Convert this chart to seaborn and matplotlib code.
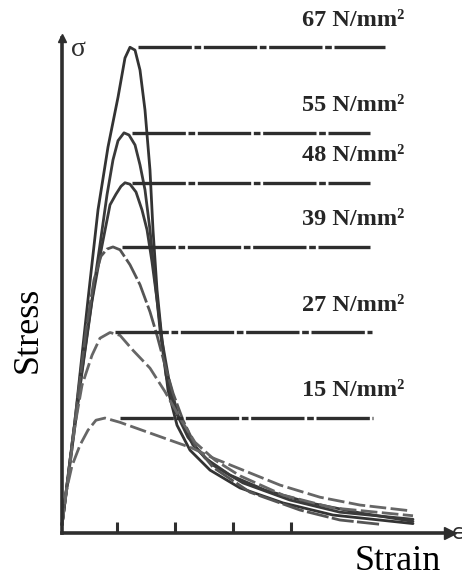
import matplotlib
matplotlib.use("Agg")
import matplotlib.pyplot as plt
import seaborn as sns
import pandas as pd

# ---------------- data ----------------
strengths = [67, 55, 48, 39, 27, 15]          # N/mm^2
labels = ["67 N/mm²", "55 N/mm²", "48 N/mm²", "39 N/mm²", "27 N/mm²", "15 N/mm²"]

strain_67 = [0, 0.224, 0.448, 0.621, 0.793, 0.966, 1.086, 1.172, 1.259, 1.345, 1.431,
             1.517, 1.569, 1.638, 1.724, 1.828, 1.983, 2.207, 2.552, 3.069, 3.810, 4.672, 6.052]
stress_67 = [0, 14.7, 31.6, 44.2, 53.0, 60.0, 65.5, 67.0, 66.6, 63.8, 58.2,
             49.8, 41.4, 33.0, 26.0, 18.9, 14.0, 10.5, 7.7, 5.2, 3.1, 1.4, 0.2]

strain_55 = [0, 0.172, 0.345, 0.517, 0.655, 0.776, 0.879, 0.966, 1.069, 1.155, 1.259, 1.345,
             1.431, 1.517, 1.603, 1.690, 1.793, 1.948, 2.172, 2.466, 2.897, 3.500, 4.276, 5.138, 6.052]
stress_55 = [0, 11.2, 21.7, 31.6, 39.3, 46.3, 51.2, 53.9, 55.0, 54.7, 53.3, 50.5,
             47.0, 41.4, 34.4, 27.4, 21.0, 16.1, 12.3, 9.4, 7.0, 4.9, 3.1, 1.7, 0.5]

strain_48 = [0, 0.172, 0.345, 0.517, 0.690, 0.828, 0.931, 1.017, 1.086, 1.172, 1.276, 1.379,
             1.466, 1.552, 1.638, 1.724, 1.845, 2.000, 2.259, 2.603, 3.121, 3.931, 4.793, 6.052]
stress_48 = [0, 10.7, 21.4, 31.4, 39.2, 44.9, 46.4, 47.5, 48.0, 47.8, 46.7, 44.2,
             41.4, 36.9, 31.6, 25.9, 20.3, 15.4, 11.2, 8.4, 5.9, 3.5, 1.8, 0.8]

strain_39 = [0, 0.138, 0.276, 0.414, 0.552, 0.672, 0.776, 0.879, 1.000, 1.172, 1.345, 1.517,
             1.638, 1.776, 1.914, 2.086, 2.293, 2.603, 3.241, 4.103, 4.793, 5.483]
stress_39 = [0, 9.1, 18.2, 27.3, 34.4, 37.7, 38.7, 39.0, 38.6, 36.5, 33.7, 29.9,
             26.6, 22.4, 18.5, 14.7, 11.2, 8.1, 4.6, 2.1, 0.7, 0.1]

strain_27 = [0, 0.103, 0.224, 0.345, 0.517, 0.655, 0.828, 1.000, 1.224, 1.517, 1.776,
             2.034, 2.293, 2.638, 3.069, 3.810, 4.672, 6.052]
stress_27 = [0, 6.3, 14.0, 19.6, 23.8, 26.2, 27.0, 26.6, 24.5, 22.0, 18.7,
             15.0, 11.6, 9.1, 6.9, 4.2, 2.4, 1.3]

strain_15 = [0, 0.034, 0.086, 0.172, 0.310, 0.448, 0.586, 0.741, 1.000, 1.517, 2.241,
             2.603, 3.121, 3.759, 4.448, 5.138, 6.000]
stress_15 = [0, 2.8, 5.2, 8.3, 11.2, 13.3, 14.7, 15.0, 14.4, 12.9, 10.8,
             9.4, 7.7, 5.6, 3.9, 2.8, 2.0]

curve_strains = [strain_67, strain_55, strain_48, strain_39, strain_27, strain_15]
curve_stresses = [stress_67, stress_55, stress_48, stress_39, stress_27, stress_15]

# horizontal reference lines (strain extent)
level_start = [1.31, 1.21, 1.21, 1.03, 0.91, 1.00]
level_end = [5.57, 5.31, 5.31, 5.31, 5.34, 5.36]

tick_strains = [0.95, 1.95, 2.95, 3.95]

# ---------------- figure ----------------
sns.set_theme(style="white")
plt.rcParams["font.family"] = ["DejaVu Sans"]

W, H = 464, 577
fig = plt.figure(figsize=(W / 100, H / 100), dpi=100)
fig.patch.set_facecolor("white")
ax = fig.add_axes([62 / W, (H - 533) / H, (450 - 62) / W, (533 - 38) / H])
ax.set_facecolor("white")
ax.set_xlim(0, 6.69)
ax.set_ylim(-1.12, 68.3)

ink = "#2e2e2e"
curve_colors = ["#333333", "#3a3a3a", "#3a3a3a", "#555555", "#666666", "#666666"]
curve_styles = ["-", "-", "-", (0, (8, 1.2)), (0, (6, 1.6)), (0, (6, 1.6))]

for xs, ys, c, ls in zip(curve_strains, curve_stresses, curve_colors, curve_styles):
    df = pd.DataFrame({"strain": xs, "stress": ys})
    sns.lineplot(data=df, x="strain", y="stress", ax=ax, sort=False, estimator=None,
                 color=c, lw=2.0, linestyle=ls)
    ax.lines[-1].set_clip_on(False)

for lvl, x0, x1 in zip(strengths, level_start, level_end):
    df = pd.DataFrame({"strain": [x0, x1], "stress": [lvl, lvl]})
    sns.lineplot(data=df, x="strain", y="stress", ax=ax, sort=False, estimator=None,
                 color=ink, lw=2.4, linestyle=(0, (16, 0.8, 2, 0.8)))
    ax.lines[-1].set_clip_on(False)

serif = ["Liberation Serif", "DejaVu Serif"]
for lvl, lab in zip(strengths, labels):
    ax.text(4.14, lvl + 3.8, lab, ha="left", va="center", fontsize=17.5,
            fontweight="bold", color="#262626", family=serif, clip_on=False)

# axes
for s in ["top", "right"]:
    ax.spines[s].set_visible(False)
for s in ["left", "bottom"]:
    ax.spines[s].set_linewidth(2.6)
    ax.spines[s].set_color(ink)
ax.plot([1], [0], marker=">", ms=9, color=ink, transform=ax.transAxes, clip_on=False)
ax.plot([0], [1], marker="^", ms=6, color=ink, transform=ax.transAxes, clip_on=False)

ax.set_xticks(tick_strains)
ax.set_yticks([])
ax.tick_params(axis="x", direction="in", length=8, width=2.2, color=ink,
               bottom=True, labelbottom=False)
ax.set_xlabel("")
ax.set_ylabel("")

fig.text(28 / W, 1 - 330 / H, "Stress", rotation=90, ha="center", va="center",
         fontsize=26, family=serif, color="black")
fig.text(398 / W, 1 - 562 / H, "Strain", ha="center", va="center",
         fontsize=26, family=serif, color="black")
fig.text(78 / W, 1 - 50 / H, "σ", ha="center", va="center", fontsize=20,
         family=serif, color=ink)
fig.text(452 / W, 1 - 533 / H, "ϵ", ha="left", va="center", fontsize=15,
         color=ink)
# caption, cut off at the bottom edge as in the source
fig.text(8 / W, 1 - 601 / H, "Fig 1.1: Stress", ha="left", va="baseline",
         fontsize=26, family=serif, color="#c4c4c4")

fig.savefig("out.png", dpi=100, facecolor="white")
